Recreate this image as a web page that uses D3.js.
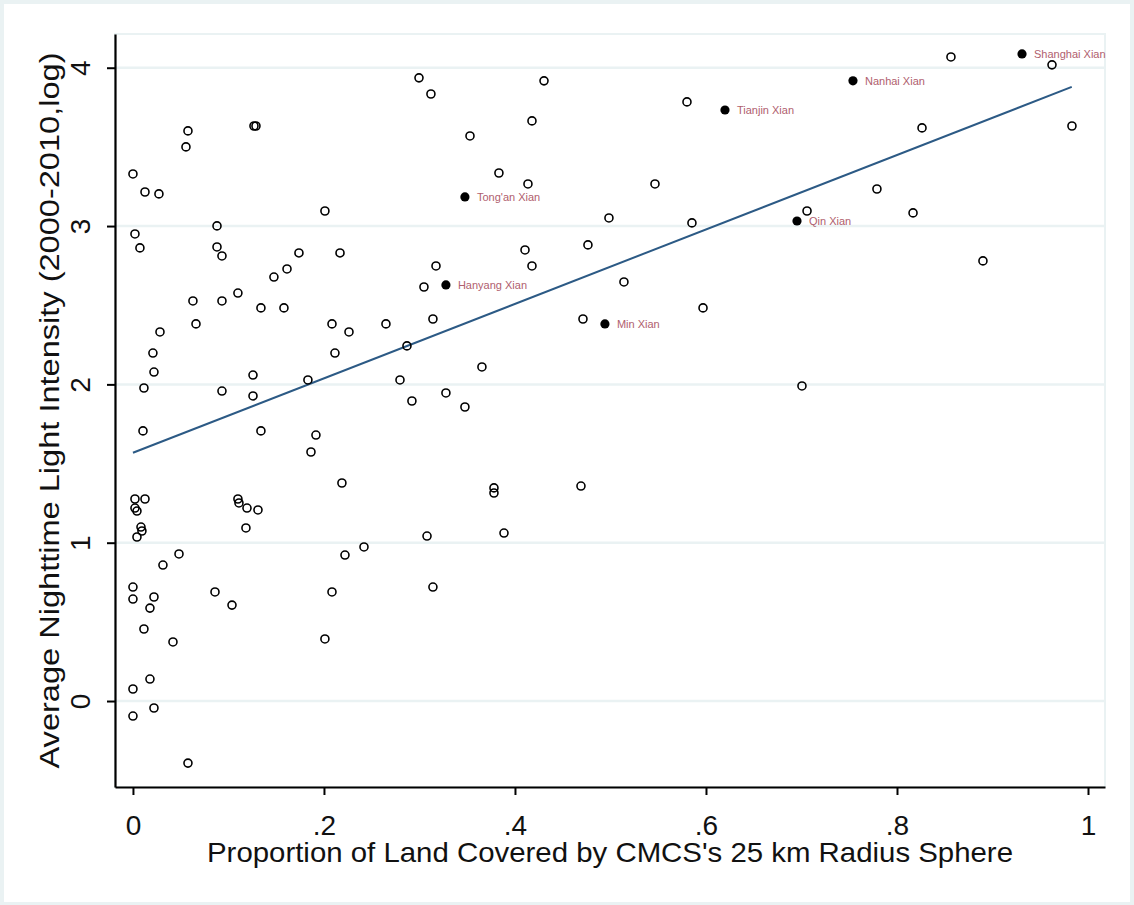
<!DOCTYPE html>
<html><head><meta charset="utf-8">
<script src="https://cdn.jsdelivr.net/npm/d3@7"></script>
<style>body{margin:0;background:#eaf2f3}svg{display:block}</style>
</head><body>
<svg id="c" width="1134" height="905"></svg>
<script>
// Open (unlabelled) observations
const xVals=[0.000,0.0126,0.0272,0.0021,0.0073,0.0576,0.0555,0.1267,0.1288,0.088,0.088,0.0932,0.1476,0.1613,0.1738,0.2168,0.2010,0.0628,0.0932,0.1099,0.134,0.1581,0.066,0.0283,0.0209,0.022,0.0115,0.0932,0.1257,0.1257,0.0105,0.134,0.2084,0.2262,0.2649,0.2115,0.1832,0.1916,0.1864,0.2188,0.2796,0.2869,0.2921,0.3277,0.3476,0.3654,0.3047,0.3173,0.3141,0.378,0.378,0.4691,0.3079,0.3885,0.3141,0.2084,0.201,0.222,0.2419,0.0314,0.0482,0.000,0.000,0.022,0.0178,0.0115,0.0419,0.0859,0.1037,0.000,0.0178,0.000,0.022,0.0576,0.0021,0.0126,0.0021,0.0042,0.0084,0.0094,0.0042,0.1099,0.111,0.1194,0.1309,0.1183,0.2995,0.312,0.4304,0.4178,0.3529,0.5801,0.3832,0.4136,0.5466,0.4984,0.5853,0.4764,0.4105,0.4178,0.5141,0.5969,0.4712,0.8565,0.9623,0.8262,0.9832,0.779,0.7058,0.8168,0.89,0.7005];
const yVals=[3.329,3.215,3.203,2.950,2.862,3.601,3.500,3.632,3.632,3.001,2.868,2.811,2.678,2.729,2.830,2.830,3.095,2.527,2.527,2.577,2.483,2.483,2.382,2.331,2.198,2.078,1.977,1.958,2.059,1.927,1.706,1.706,2.382,2.331,2.382,2.198,2.028,1.680,1.573,1.377,2.028,2.243,1.895,1.946,1.857,2.110,2.615,2.748,2.413,1.346,1.314,1.358,1.042,1.061,0.720,0.689,0.392,0.922,0.973,0.859,0.929,0.720,0.644,0.657,0.587,0.455,0.373,0.689,0.606,0.076,0.139,-0.095,-0.044,-0.392,1.276,1.276,1.219,1.200,1.099,1.074,1.036,1.276,1.251,1.219,1.207,1.093,3.936,3.834,3.917,3.664,3.569,3.784,3.335,3.266,3.266,3.051,3.020,2.881,2.849,2.748,2.647,2.483,2.413,4.068,4.018,3.620,3.632,3.234,3.095,3.083,2.780,1.990];
// Labelled observations
const labelNames=["Shanghai Xian","Nanhai Xian","Tianjin Xian","Tong'an Xian","Qin Xian","Hanyang Xian","Min Xian"];
const labelX=[0.9309,0.7539,0.6199,0.3476,0.6953,0.3277,0.4942];
const labelY=[4.087,3.917,3.733,3.184,3.032,2.628,2.382];
// Fitted line endpoints
const fitX=[0,0.983];
const fitY=[1.568,3.879];
// Ticks
const xTicks=[0,0.2,0.4,0.6,0.8,1];
const xTickLabels=["0",".2",".4",".6",".8","1"];
const yTicks=[0,1,2,3,4];
const xTitle="Proportion of Land Covered by CMCS's 25 km Radius Sphere";
const yTitle="Average Nighttime Light Intensity (2000-2010,log)";

const FONT="'Liberation Sans', Arial, sans-serif";
const bg="#eaf2f3";
const svg=d3.select("#c");
svg.append("rect").attr("width",1134).attr("height",905).attr("fill",bg);
svg.append("rect").attr("x",4).attr("y",4).attr("width",1126).attr("height",898).attr("fill","#fff");

const L=115,T=34,R=1105,B=787;
const x=d3.scaleLinear().domain([-0.0188,1.0178]).range([L,R]);
const y=d3.scaleLinear().domain([-0.543,4.213]).range([B,T]);

// plot region border (light)
svg.append("rect").attr("x",L).attr("y",T).attr("width",R-L).attr("height",B-T)
  .attr("fill","none").attr("stroke",bg).attr("stroke-width",2);

// grid lines
svg.append("g").selectAll("line").data(yTicks).join("line")
  .attr("x1",L).attr("x2",R).attr("y1",d=>y(d)).attr("y2",d=>y(d))
  .attr("stroke",bg).attr("stroke-width",2.5);

// Y axis
const ya=svg.append("g").attr("transform",`translate(${L},0)`)
  .call(d3.axisLeft(y).tickValues(yTicks).tickSize(8).tickSizeOuter(0).tickFormat(d3.format("d")));
ya.select(".domain").attr("stroke","#000").attr("stroke-width",2.2);
ya.selectAll(".tick line").attr("stroke","#000").attr("stroke-width",2);
ya.selectAll(".tick text").attr("transform","rotate(-90)").attr("x",0).attr("y",-25).attr("dy",0)
  .attr("text-anchor","middle").attr("font-family",FONT).attr("font-size",28).attr("fill","#111");

// X axis
const xa=svg.append("g").attr("transform",`translate(0,${B})`)
  .call(d3.axisBottom(x).tickValues(xTicks).tickSize(8).tickSizeOuter(0).tickFormat((d,i)=>xTickLabels[i]));
xa.select(".domain").attr("stroke","#000").attr("stroke-width",2.2);
xa.selectAll(".tick line").attr("stroke","#000").attr("stroke-width",2);
xa.selectAll(".tick text").attr("y",48).attr("dy",0)
  .attr("font-family",FONT).attr("font-size",28).attr("fill","#111");

// axis titles
svg.append("text").attr("x",(L+R)/2).attr("y",862).attr("text-anchor","middle")
  .attr("font-family",FONT).attr("font-size",28).attr("fill","#111")
  .attr("textLength",806).attr("lengthAdjust","spacingAndGlyphs").text(xTitle);
svg.append("text").attr("transform",`translate(59,${(T+B)/2}) rotate(-90)`).attr("text-anchor","middle")
  .attr("font-family",FONT).attr("font-size",27).attr("fill","#111")
  .attr("textLength",716).attr("lengthAdjust","spacingAndGlyphs").text(yTitle);

// fit line
svg.append("line").attr("x1",x(fitX[0])).attr("y1",y(fitY[0])).attr("x2",x(fitX[1])).attr("y2",y(fitY[1]))
  .attr("stroke","#2c5a85").attr("stroke-width",2);

// hollow markers
svg.append("g").selectAll("circle").data(xVals.map((v,i)=>[v,yVals[i]])).join("circle")
  .attr("cx",d=>x(d[0])).attr("cy",d=>y(d[1])).attr("r",4)
  .attr("fill","none").attr("stroke","#000").attr("stroke-width",1.6);

// labelled filled markers
const lab=svg.append("g").selectAll("g").data(labelNames.map((n,i)=>({n,x:labelX[i],y:labelY[i]}))).join("g");
lab.append("circle").attr("cx",d=>x(d.x)).attr("cy",d=>y(d.y)).attr("r",4.6).attr("fill","#000");
lab.append("text").attr("x",d=>x(d.x)+12).attr("y",d=>y(d.y)).attr("dy","0.35em")
  .attr("font-family",FONT).attr("font-size",11).attr("fill","#b0606e").text(d=>d.n);
</script>
</body></html>
